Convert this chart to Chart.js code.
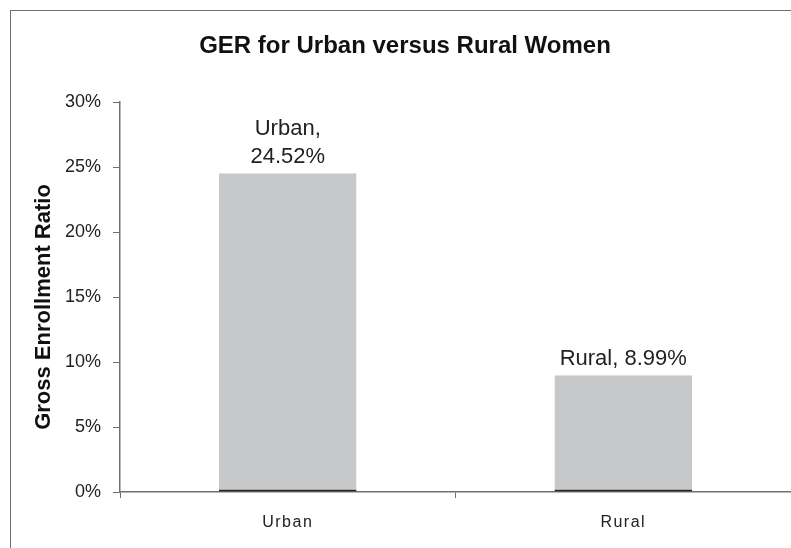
<!DOCTYPE html>
<html>
<head>
<meta charset="utf-8">
<script src="https://cdn.jsdelivr.net/npm/chart.js@4"></script>
<style>
  html, body { margin:0; padding:0; background:#fff; overflow:hidden; }
  #wrap { position:relative; width:791px; height:548px; overflow:hidden; }
  #frame { position:absolute; left:10px; top:10px; width:900px; height:700px; border-left:1px solid #6e6e6e; border-top:1px solid #6e6e6e; }
  canvas { position:absolute; left:0; top:0; }
</style>
</head>
<body>
<div id="wrap">
  <div id="frame"></div>
  <canvas id="c" width="791" height="548"></canvas>
</div>
<script>
// data
const categories = ['Urban', 'Rural'];
const gerValues = [24.52, 8.99];
const barLabels = [['Urban,', '24.52%'], ['Rural, 8.99%']];
const yTicks = [0, 5, 10, 15, 20, 25, 30];

const FONT = '"Liberation Sans", Arial, sans-serif';

// title, y title, category labels and value labels drawn on canvas
const textPlugin = {
  id: 'texts',
  afterDraw(chart){
    const ctx = chart.ctx;
    ctx.save();
    ctx.fillStyle = '#111';
    ctx.textAlign = 'center';
    ctx.textBaseline = 'middle';
    ctx.font = 'bold 24px ' + FONT;
    ctx.fillText('GER for Urban versus Rural Women', 405, 46);

    ctx.save();
    ctx.translate(44, 307);
    ctx.rotate(-Math.PI/2);
    ctx.font = 'bold 22px ' + FONT;
    ctx.fillText('Gross Enrollment Ratio', 0, 0);
    ctx.restore();

    // category labels (spaced out like the original)
    const xs = chart.scales.x;
    ctx.font = '16px ' + FONT;
    ctx.fillStyle = '#222';
    ctx.letterSpacing = '1.5px';
    categories.forEach((c, i) => {
      ctx.fillText(c, xs.getPixelForValue(i), 523);
    });
    ctx.letterSpacing = '0px';

    // value labels above bars
    ctx.font = '22px ' + FONT;
    const meta = chart.getDatasetMeta(0);
    meta.data.forEach((bar, i) => {
      const lines = barLabels[i];
      const lh = 28;
      lines.forEach((t, j) => {
        ctx.fillText(t, bar.x, bar.y - 16 - (lines.length - 1 - j) * lh);
      });
    });
    ctx.restore();
  }
};

new Chart(document.getElementById('c'), {
  type: 'bar',
  data: {
    labels: categories,
    datasets: [{
      data: gerValues,
      backgroundColor: '#c7c8ca',
      borderColor: '#222',
      borderWidth: { top: 0, left: 0, right: 0, bottom: 2 },
      borderSkipped: false,
      barPercentage: 0.41,
      categoryPercentage: 1
    }]
  },
  options: {
    responsive: false,
    animation: false,
    layout: { padding: { left: 10, right: 0, top: 102, bottom: 0 } },
    plugins: { legend: { display: false }, tooltip: { enabled: false }, title: { display: false } },
    scales: {
      x: {
        offset: true,
        afterFit: s => { s.height = 56; },
        grid: { display: true, drawOnChartArea: false, offset: true, tickLength: 6, color: '#707070' },
        border: { color: '#707070', width: 1.5 },
        ticks: { display: false }
      },
      y: {
        min: 0, max: 30,
        afterBuildTicks: s => { s.ticks = yTicks.map(v => ({ value: v })); },
        afterFit: s => { s.width = 110; },
        grid: { drawOnChartArea: false, tickLength: 7, color: '#707070' },
        border: { color: '#707070', width: 1.5 },
        ticks: { color: '#222', font: { family: FONT, size: 18 }, padding: 12, callback: v => v + '%' }
      }
    }
  },
  plugins: [textPlugin]
});
</script>
</body>
</html>
